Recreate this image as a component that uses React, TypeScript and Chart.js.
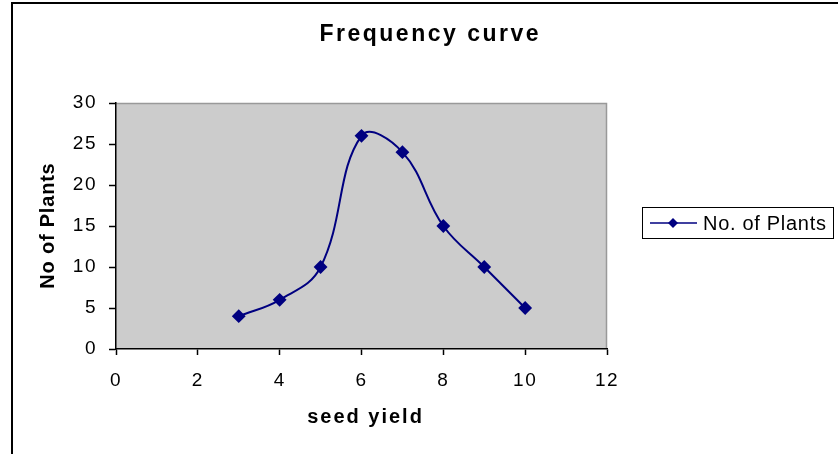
import React, { useEffect, useRef } from "react";
import { Chart, registerables } from "chart.js";

Chart.register(...registerables);

const seedYield = [3, 4, 5, 6, 7, 8, 9, 10];
const noOfPlants = [4, 6, 10, 26, 24, 15, 10, 5];
const seriesLabel = "No. of Plants";
const chartTitle = "Frequency curve";
const xTitle = "seed yield";
const yTitle = "No of Plants";

const FONT = "'Liberation Sans', Arial, sans-serif";
const NAVY = "#000080";

function drawText(ctx: any, text: string, x: number, y: number, font: string, spacing: number, rot = 0) {
  ctx.save();
  ctx.font = font;
  (ctx as any).letterSpacing = `${spacing}px`;
  ctx.fillStyle = "#000000";
  ctx.textBaseline = "middle";
  ctx.textAlign = "left";
  const w = ctx.measureText(text).width - spacing;
  ctx.translate(x, y);
  if (rot) ctx.rotate(rot);
  ctx.fillText(text, -w / 2, 0);
  ctx.restore();
}

const framePlugin = {
  id: "frame",
  beforeDraw(chart: any) {
    const { ctx, chartArea } = chart;
    ctx.save();
    ctx.fillStyle = "#ffffff";
    ctx.fillRect(0, 0, chart.width, chart.height);
    ctx.fillStyle = "#cccccc";
    ctx.fillRect(chartArea.left, chartArea.top, chartArea.right - chartArea.left, chartArea.bottom - chartArea.top);
    ctx.strokeStyle = "#999999";
    ctx.lineWidth = 1.5;
    ctx.beginPath();
    ctx.moveTo(chartArea.left, chartArea.top + 0.5);
    ctx.lineTo(chartArea.right - 0.5, chartArea.top + 0.5);
    ctx.lineTo(chartArea.right - 0.5, chartArea.bottom);
    ctx.stroke();
    ctx.strokeStyle = "#000000";
    ctx.lineWidth = 2;
    ctx.beginPath();
    ctx.moveTo(12, chart.height + 5);
    ctx.lineTo(12, 3);
    ctx.lineTo(chart.width + 5, 3);
    ctx.stroke();
    ctx.restore();
    (ctx as any).letterSpacing = "1.5px";
  },
  afterDraw(chart: any) {
    const { ctx, chartArea } = chart;
    (ctx as any).letterSpacing = "0px";
    const cxPlot = (chartArea.left + chartArea.right) / 2;
    const cyPlot = (chartArea.top + chartArea.bottom) / 2;
    drawText(ctx, chartTitle, 429, 35, `bold 23px ${FONT}`, 2.5);
    drawText(ctx, xTitle, cxPlot + 3, 417, `bold 20px ${FONT}`, 2);
    drawText(ctx, yTitle, 48, cyPlot, `bold 20px ${FONT}`, 0.8, -Math.PI / 2);

    const ds = chart.data.datasets[0];
    const x = 642, y = 207, w = 191, h = 31;
    ctx.save();
    ctx.fillStyle = "#ffffff";
    ctx.fillRect(x, y, w, h);
    ctx.strokeStyle = "#000000";
    ctx.lineWidth = 1;
    ctx.strokeRect(x + 0.5, y + 0.5, w, h);
    const cy = y + h / 2 + 0.5;
    ctx.strokeStyle = NAVY;
    ctx.lineWidth = 1.5;
    ctx.beginPath();
    ctx.moveTo(650, cy);
    ctx.lineTo(697, cy);
    ctx.stroke();
    ctx.fillStyle = NAVY;
    ctx.beginPath();
    const mx = 673, r = 5;
    ctx.moveTo(mx, cy - r);
    ctx.lineTo(mx + r, cy);
    ctx.lineTo(mx, cy + r);
    ctx.lineTo(mx - r, cy);
    ctx.closePath();
    ctx.fill();
    ctx.fillStyle = "#000000";
    ctx.font = `20px ${FONT}`;
    (ctx as any).letterSpacing = "0.7px";
    ctx.textBaseline = "middle";
    ctx.textAlign = "left";
    ctx.fillText(ds.label, 703, cy + 1);
    ctx.restore();
  },
};

export default function App() {
  const ref = useRef<HTMLCanvasElement | null>(null);
  useEffect(() => {
    if (!ref.current) return;
    const chart = new Chart(ref.current, {
      type: "line",
      data: {
        datasets: [
          {
            label: seriesLabel,
            data: seedYield.map((x, i) => ({ x, y: noOfPlants[i] })),
            borderColor: NAVY,
            backgroundColor: NAVY,
            borderWidth: 2,
            pointStyle: "rectRot",
            pointRadius: 5.5,
            pointHoverRadius: 5.5,
            tension: 0.4,
            cubicInterpolationMode: "default",
          },
        ],
      },
      options: {
        animation: false,
        responsive: false,
        layout: { padding: { left: 0, right: 231, top: 103, bottom: 0 } },
        plugins: {
          legend: { display: false },
          tooltip: { enabled: false },
          title: { display: false },
        },
        scales: {
          x: {
            type: "linear",
            min: 0,
            max: 12,
            ticks: {
              stepSize: 2,
              color: "#000000",
              font: { family: FONT, size: 19 },
              padding: 14,
              maxRotation: 0,
            },
            grid: { drawOnChartArea: false, drawTicks: true, tickLength: 6, color: "#000000", tickWidth: 1.5 },
            border: { display: true, color: "#000000", width: 1.5 },
            afterFit(scale: any) {
              scale.height = 105;
            },
          },
          y: {
            type: "linear",
            min: 0,
            max: 30,
            ticks: {
              stepSize: 5,
              color: "#000000",
              font: { family: FONT, size: 19 },
              padding: 12,
            },
            grid: { drawOnChartArea: false, drawTicks: true, tickLength: 7, color: "#000000", tickWidth: 1.5 },
            border: { display: true, color: "#000000", width: 1.5 },
            afterFit(scale: any) {
              scale.width = 116;
            },
          },
        },
      },
      plugins: [framePlugin],
    } as any);
    return () => chart.destroy();
  }, []);
  return (
    <div style={{ position: "fixed", left: 0, top: 0, width: 838, height: 454 }}>
      <canvas ref={ref} width={838} height={454} style={{ display: "block" }} />
    </div>
  );
}
